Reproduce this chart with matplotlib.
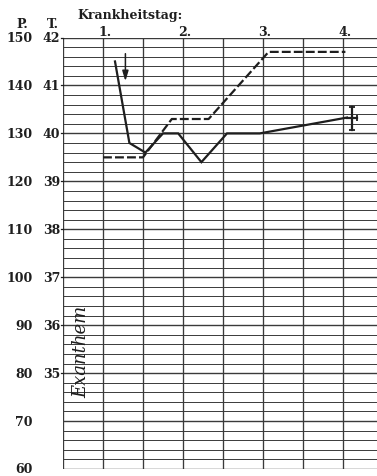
import matplotlib
matplotlib.use("Agg")
import matplotlib.pyplot as plt
from matplotlib.patches import FancyArrowPatch
import numpy as np

# Disease days shown along the top
day_labels = ["1.", "2.", "3.", "4."]
day_positions = [1, 2, 3, 4]

# Left scales: pulse (P.) and temperature (T.)
pulse_ticks = [150, 140, 130, 120, 110, 100, 90, 80, 70, 60]
temp_ticks = [42, 41, 40, 39, 38, 37, 36, 35]

# Temperature curve (solid), time in days, values in °C
temp_time = [1.15, 1.33, 1.53, 1.75, 1.94, 2.23, 2.55, 2.96, 4.05]
temp_vals = [41.5, 39.8, 39.6, 40.0, 40.0, 39.4, 40.0, 40.0, 40.33]

# Pulse curve (dashed), time in days, beats per minute
pulse_time = [1.0, 1.5, 1.86, 2.32, 3.07, 4.03]
pulse_vals = [125, 125, 133, 133, 147, 147]

W, H = 377, 477
fig = plt.figure(figsize=(W / 100, H / 100), dpi=100)
fig.patch.set_facecolor("white")

def fx(px):
    return px / W

def fy(py):
    return 1 - py / H

left_px, top_px, bot_px = 63, 38.5, 470
ax = fig.add_axes([fx(left_px), fy(bot_px), 1 - fx(left_px), fy(top_px) - fy(bot_px)])
x0 = 0.5
x1 = x0 + (W - left_px) / 80.0
ax.set_xlim(x0, x1)
ax.set_ylim(60, 150)

ink = "#1e1e1e"
grid_ink = "#3a3a3a"

# chart grid: half-day columns, 2-beat rows, heavier every 10
for y in np.arange(60, 151, 2):
    major = (y % 10 == 0)
    ax.axhline(y, color=grid_ink, lw=1.0 if major else 0.7, zorder=1)
for x in np.arange(0.5, x1, 0.5):
    ax.axvline(x, color=grid_ink, lw=0.95, zorder=1)

for s in ax.spines.values():
    s.set_visible(False)
ax.set_xticks([])
ax.set_yticks([])

serif = ["DejaVu Serif"]
fs = 9
fw = "bold"

# temperature converted onto the pulse scale: 42 °C ↔ 150, 1 °C ↔ 10 beats
temp_on_pulse = [10 * t - 270 for t in temp_vals]
ax.plot(temp_time, temp_on_pulse, color=ink, lw=1.6, solid_joinstyle="miter", zorder=3)
ax.plot(pulse_time, pulse_vals, color=ink, lw=1.6, dashes=(4, 1.4), zorder=3)

# arrow marking the onset
arr = FancyArrowPatch((1.28, 147.2), (1.28, 140.3), arrowstyle="-|>,head_length=6,head_width=1.8",
                      color=ink, lw=1.1, mutation_scale=1, zorder=4)
ax.add_patch(arr)

# cross marking death
cx, cy = 4.11, 133.2
ax.plot([cx, cx], [130.8, 135.6], color=ink, lw=1.6, zorder=4)
ax.plot([4.047, 4.178], [cy, cy], color=ink, lw=1.6, zorder=4)
ax.plot([cx, cx], [130.8, 135.6], ls="none", marker="_", ms=5, mew=1.3, color=ink, zorder=4)
ax.plot([4.178], [cy], ls="none", marker="|", ms=5, mew=1.3, color=ink, zorder=4)

ax.text(0.73, 84.6, "Exanthem", rotation=90, ha="center", va="center",
        family=["DejaVu Serif"], style="italic", fontsize=13, color=ink, zorder=4)

# scale labels on the left
def y_px(p):
    return top_px + (150 - p) * (bot_px - top_px) / 90.0

fig.text(fx(22), fy(25), "P.", ha="center", va="center", family=serif, fontsize=fs,
         fontweight=fw, color=ink)
fig.text(fx(53), fy(25), "T.", ha="center", va="center", family=serif, fontsize=fs,
         fontweight=fw, color=ink)
for p in pulse_ticks:
    fig.text(fx(33), fy(y_px(p)), str(p), ha="right", va="center", family=serif, fontsize=fs,
             fontweight=fw, color=ink)
for t in temp_ticks:
    p = 10 * t - 270
    fig.text(fx(60), fy(y_px(p)), str(t), ha="right", va="center", family=serif, fontsize=fs,
             fontweight=fw, color=ink)
    ax.plot([x0 - 0.03, x0], [p, p], color=ink, lw=0.9, clip_on=False)

fig.text(fx(77), fy(15), "Krankheitstag:", ha="left", va="center", family=serif, fontsize=fs,
         fontweight=fw, color=ink)
label_y = 1 + (top_px - 32) / (bot_px - top_px)
for d, lab in zip(day_positions, day_labels):
    ax.text(d + 0.02, label_y, lab, ha="center", va="center", family=serif, fontsize=fs,
            fontweight=fw, color=ink, transform=ax.get_xaxis_transform(), clip_on=False)

fig.savefig("out.png", dpi=100, facecolor="white")
